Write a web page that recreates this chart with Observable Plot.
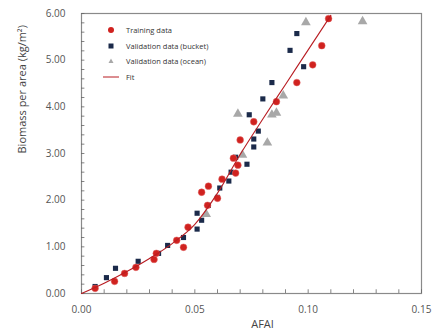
<!DOCTYPE html>
<html>
<head>
<meta charset="utf-8">
<script src="https://cdn.jsdelivr.net/npm/d3@7"></script>
<script src="https://cdn.jsdelivr.net/npm/@observablehq/plot@0.6"></script>
<style>
  html, body { margin: 0; padding: 0; background: #fff; }
  #wrap { position: relative; width: 432px; height: 332px; }
  .legend { position: absolute; left: 96px; top: 22px; font: 7.5px "Open Sans", sans-serif; color: #333; }
  .legend .row { height: 15.7px; display: flex; align-items: center; }
  .legend .sym { width: 30px; display: flex; justify-content: center; align-items: center; }
</style>
</head>
<body>
<div id="wrap"></div>
<script>
// Training data (red circles): [AFAI, biomass]
const trainX = [0.006, 0.0146, 0.019, 0.024, 0.032, 0.033, 0.042, 0.045, 0.047, 0.053, 0.056, 0.0556, 0.060, 0.062, 0.067, 0.069, 0.068, 0.070, 0.076, 0.086, 0.095, 0.102, 0.106, 0.109];
const trainY = [0.11, 0.26, 0.43, 0.56, 0.73, 0.86, 1.14, 0.99, 1.42, 2.17, 2.30, 1.89, 2.04, 2.45, 2.90, 2.75, 2.58, 3.29, 3.68, 4.11, 4.52, 4.90, 5.31, 5.89];
// Validation data (bucket) (navy squares)
const buckX = [0.006, 0.011, 0.015, 0.025, 0.034, 0.038, 0.045, 0.051, 0.051, 0.053, 0.056, 0.060, 0.061, 0.065, 0.066, 0.068, 0.073, 0.076, 0.076, 0.078, 0.074, 0.080, 0.084, 0.098, 0.092, 0.095];
const buckY = [0.15, 0.34, 0.54, 0.69, 0.86, 1.03, 1.20, 1.38, 1.72, 1.57, 1.89, 2.06, 2.26, 2.41, 2.60, 2.92, 2.77, 3.14, 3.31, 3.48, 3.83, 4.17, 4.52, 4.86, 5.21, 5.57];
// Validation data (ocean) (gray triangles)
const oceanX = [0.055, 0.071, 0.082, 0.069, 0.084, 0.086, 0.089, 0.099, 0.124];
const oceanY = [1.70, 2.97, 3.23, 3.85, 3.83, 3.87, 4.24, 5.81, 5.83];
// Fit curve
const fitX = [0.000, 0.010, 0.020, 0.030, 0.040, 0.050, 0.060, 0.070, 0.080, 0.090, 0.100, 0.110];
const fitY = [0.00, 0.22, 0.47, 0.75, 1.07, 1.48, 2.15, 2.98, 3.74, 4.48, 5.22, 5.96];

const xTicks = [0, 0.05, 0.10, 0.15];
const yTicks = [0, 1, 2, 3, 4, 5, 6];

const toRows = (xs, ys) => xs.map((x, i) => ({x, y: ys[i]}));
const train = toRows(trainX, trainY);
const buck = toRows(buckX, buckY);
const ocean = toRows(oceanX, oceanY);
const fit = toRows(fitX, fitY);

const xMinor = d3.range(0, 0.1501, 0.01);
const yMinor = d3.range(0, 6.001, 0.2);

const RED = "#d0221f", NAVY = "#1b2a4a", GRAY = "#a8a8a8", FIT = "#b81c22";

const chart = Plot.plot({
  width: 432,
  height: 332,
  marginLeft: 81,
  marginRight: 11,
  marginTop: 13,
  marginBottom: 39,
  style: {fontFamily: "'Open Sans', sans-serif", background: "#fff"},
  x: {domain: [0, 0.15]},
  y: {domain: [0, 6]},
  marks: [
    Plot.frame({stroke: "#8a8a8a", strokeWidth: 1.2}),
    Plot.ruleX(xMinor, {x: d => d, y1: 0, y2: 0.08, stroke: "#666", strokeWidth: 0.8}),
    Plot.ruleY(yMinor, {y: d => d, x1: 0, x2: 0.0015, stroke: "#666", strokeWidth: 0.8}),
    Plot.axisX({ticks: xTicks, tickSize: 0, tickPadding: 12, tickFormat: d3.format(".2f"), fontSize: 10, fill: "#555", label: null}),
    Plot.axisY({ticks: yTicks, tickSize: 0, tickPadding: 16, tickFormat: d3.format(".2f"), fontSize: 10, fill: "#555", label: null}),
    Plot.text(["AFAI"], {frameAnchor: "bottom", dx: 11, dy: 34, fontSize: 11, fill: "#444"}),
    Plot.text(["Biomass per area (kg/m²)"], {frameAnchor: "left", rotate: -90, dx: -59, fontSize: 11, fill: "#444"}),
    Plot.dot(ocean, {x: "x", y: "y", symbol: "triangle", r: 3.6, fill: GRAY}),
    Plot.dot(buck, {x: "x", y: "y", symbol: "square", r: 2.9, fill: NAVY}),
    Plot.dot(train, {x: "x", y: "y", symbol: "circle", r: 3.4, fill: RED, stroke: "#e46a6a", strokeWidth: 0.8, strokeOpacity: 0.6}),
    Plot.line(fit, {x: "x", y: "y", curve: "monotone-x", stroke: FIT, strokeWidth: 1.1})
  ]
});
const wrap = document.getElementById("wrap");
wrap.appendChild(chart);

const legendItems = [
  {label: "Training data", sym: `<svg width="10" height="10"><circle cx="5" cy="5" r="3" fill="${RED}"/></svg>`},
  {label: "Validation  data (bucket)", sym: `<svg width="10" height="10"><rect x="2.5" y="2.5" width="5" height="5" fill="${NAVY}"/></svg>`},
  {label: "Validation  data (ocean)", sym: `<svg width="10" height="10"><path d="M5,2.5L7.5,7H2.5Z" fill="${GRAY}"/></svg>`},
  {label: "Fit", sym: `<svg width="16" height="6"><line x1="0" y1="3" x2="16" y2="3" stroke="${FIT}" stroke-width="1"/></svg>`}
];
const lg = document.createElement("div");
lg.className = "legend";
lg.innerHTML = legendItems.map(d => `<div class="row"><span class="sym">${d.sym}</span><span>${d.label}</span></div>`).join("");
wrap.appendChild(lg);
</script>
</body>
</html>
